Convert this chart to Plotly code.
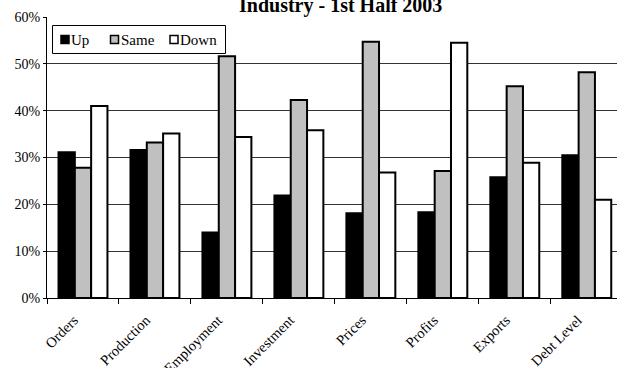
import plotly.graph_objects as go

categories = ["Orders", "Production", "Employment", "Investment",
              "Prices", "Profits", "Exports", "Debt Level"]
up = [31.1, 31.6, 14.0, 21.9, 18.1, 18.3, 25.8, 30.5]
same = [27.8, 33.2, 51.6, 42.3, 54.7, 27.1, 45.2, 48.2]
down = [41.0, 35.1, 34.4, 35.8, 26.8, 54.5, 28.9, 21.0]
series_names = ["Up", "Same", "Down"]
series_colors = ["#000000", "#C0C0C0", "#FFFFFF"]

# plot area in pixels (used to place the hand-drawn legend)
W, H = 617, 368
L, R, T, B = 47, 0, 17, 70
PW, PH = W - L - R, H - T - B


def px_x(px):
    return (px - L) / PW


def px_y(py):
    return (H - B - py) / PH


fig = go.Figure()
for name, vals, color in zip(series_names, [up, same, down], series_colors):
    fig.add_trace(go.Bar(
        x=categories, y=vals, name=name,
        marker=dict(color=color, line=dict(color="#000000", width=2)),
    ))

# legend box with swatches and labels
shapes = [dict(type="rect", xref="paper", yref="paper",
               x0=px_x(52.5), x1=px_x(225.5), y0=px_y(53.5), y1=px_y(25.5),
               line=dict(color="#000000", width=1), fillcolor="white", layer="above")]
annotations = []
swatch_x = [61, 110.5, 170]
for sx, name, color in zip(swatch_x, series_names, series_colors):
    shapes.append(dict(type="rect", xref="paper", yref="paper",
                       x0=px_x(sx), x1=px_x(sx + 8), y0=px_y(43.5), y1=px_y(35.5),
                       line=dict(color="#000000", width=1.5), fillcolor=color,
                       layer="above"))
    annotations.append(dict(text=name, xref="paper", yref="paper",
                            x=px_x(sx + 8), y=px_y(39.5), xanchor="left",
                            yanchor="middle", showarrow=False,
                            font=dict(family="Liberation Serif", size=15)))

annotations.append(dict(
    text="<b>Industry - 1st Half 2003</b>", xref="paper", yref="paper",
    x=px_x(340), y=1, xanchor="center", yanchor="bottom", yshift=-2,
    showarrow=False, font=dict(family="Liberation Serif", size=20),
))

fig.update_layout(
    width=W, height=H,
    margin=dict(l=L, r=R, t=T, b=B, autoexpand=False),
    paper_bgcolor="white", plot_bgcolor="white",
    barmode="group", bargap=0.32, bargroupgap=0,
    font=dict(family="Liberation Serif", size=14, color="#000000"),
    showlegend=False,
    xaxis=dict(
        range=[-0.5, 7.42], tickson="boundaries", ticks="outside",
        ticklen=5, tickcolor="#000000", tickangle=-45,
        ticklabelstandoff=7, ticklabelshift=-9,
        tickfont=dict(family="Liberation Serif", size=14.5),
        showline=True, linecolor="#000000", linewidth=1,
        showgrid=False, fixedrange=True, automargin=False,
    ),
    yaxis=dict(
        range=[0, 60], dtick=10, ticksuffix="%",
        ticks="outside", ticklen=3, tickcolor="#000000",
        tickfont=dict(family="Liberation Serif", size=14),
        showline=True, linecolor="#000000", linewidth=1,
        showgrid=True, gridcolor="#333333", gridwidth=1,
        zeroline=False, automargin=False,
    ),
    shapes=shapes,
    annotations=annotations,
)

fig.write_html("out.html")
